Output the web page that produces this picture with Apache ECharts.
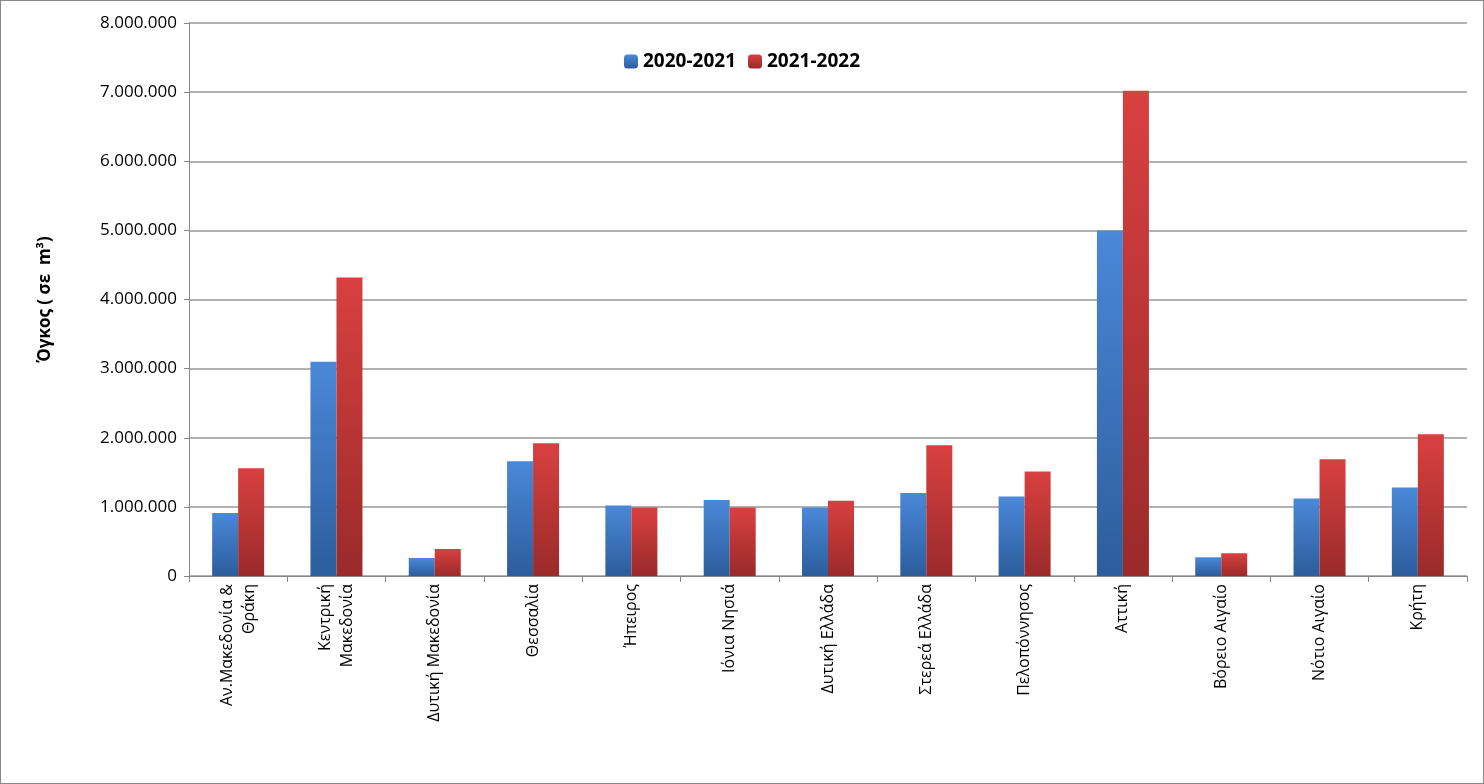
<!DOCTYPE html>
<html><head><meta charset="utf-8">
<script src="https://cdn.jsdelivr.net/npm/echarts@6/dist/echarts.min.js"></script>
<style>body{margin:0}#c{width:1484px;height:784px;box-sizing:border-box;border:1px solid #888}</style>
</head><body><div id="c"></div>
<script>
var categories = ['Αν.Μακεδονία &\nΘράκη', 'Κεντρική\nΜακεδονία', 'Δυτική Μακεδονία', 'Θεσσαλία', 'Ήπειρος', 'Ιόνια Νησιά', 'Δυτική Ελλάδα', 'Στερεά Ελλάδα', 'Πελοπόννησος', 'Αττική', 'Βόρειο Αιγαίο', 'Νότιο Αιγαίο', 'Κρήτη'];
var s2021 = [910000, 3100000, 260000, 1660000, 1020000, 1100000, 990000, 1200000, 1150000, 5000000, 270000, 1120000, 1280000];
var s2022 = [1560000, 4320000, 390000, 1920000, 990000, 990000, 1090000, 1890000, 1510000, 7020000, 330000, 1690000, 2050000];

var myChart = echarts.init(document.getElementById('c'));
function grad(top, bottom){
    return new echarts.graphic.LinearGradient(0,0,0,1,[{offset:0,color:top},{offset:1,color:bottom}]);
}
function fmt(v){ return String(v).replace(/\B(?=(\d{3})+(?!\d))/g,'.'); }
myChart.setOption({
    textStyle:{fontFamily:'Open Sans'},
    legend:{
        top:46, left:'center', itemWidth:14, itemHeight:14, itemGap:12,
        textStyle:{fontSize:19, fontWeight:'bold', color:'#000'},
        data:['2020-2021','2021-2022']
    },
    grid:{left:188, right:16, top:22, bottom:207},
    xAxis:{
        type:'category', data:categories,
        axisLine:{lineStyle:{color:'#888'}},
        axisTick:{show:true, lineStyle:{color:'#888'}, length:6},
        axisLabel:{rotate:90, interval:0, fontSize:16, color:'#000', lineHeight:22}
    },
    yAxis:{
        type:'value', min:0, max:8000000, interval:1000000,
        name:'Όγκος ( σε  m³)', nameLocation:'middle', nameGap:135, nameRotate:90,
        nameTextStyle:{fontSize:17, fontWeight:'bold', color:'#000'},
        axisLine:{show:true, lineStyle:{color:'#888'}},
        axisTick:{show:true, lineStyle:{color:'#888'}},
        axisLabel:{fontSize:17, color:'#000', formatter:fmt, margin:12},
        splitLine:{lineStyle:{color:'#999', width:1.5}}
    },
    series:[
        {name:'2020-2021', type:'bar', data:s2021, barWidth:26, barGap:'0%',
         itemStyle:{color:grad('#4a88d8','#2c5d9c')}},
        {name:'2021-2022', type:'bar', data:s2022, barWidth:26,
         itemStyle:{color:grad('#d94040','#9a2a2a')}}
    ]
});
</script></body></html>
